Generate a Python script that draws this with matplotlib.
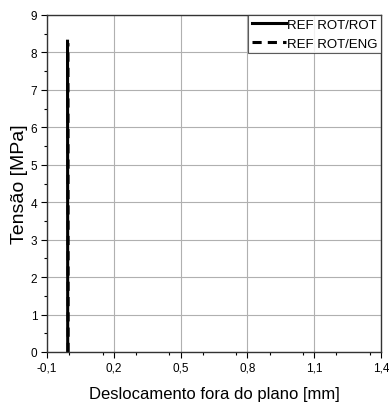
import matplotlib.pyplot as plt
from matplotlib.ticker import MultipleLocator, FixedLocator

plt.rcParams['font.family'] = ['Liberation Sans', 'DejaVu Sans']

# curves (displacement in mm, stress in MPa)
rot_rot_x = [-0.007, -0.0072, -0.0075, -0.0078]
rot_rot_y = [0.0, 3.0, 6.0, 8.3]
rot_eng_x = [-0.005, -0.0052, -0.0055, -0.0058]
rot_eng_y = [0.0, 3.0, 6.0, 8.25]

xticks = [-0.1, 0.2, 0.5, 0.8, 1.1, 1.4]
xlabels = ['-0,1', '0,2', '0,5', '0,8', '1,1', '1,4']

fig = plt.figure(figsize=(3.89, 4.10), dpi=100)
ax = fig.add_axes([47 / 389, 1 - 353 / 410, (381 - 47) / 389, (353 - 16) / 410])

ax.plot(rot_rot_x, rot_rot_y, color='black', lw=2.2, label='REF ROT/ROT')
ax.plot(rot_eng_x, rot_eng_y, color='black', lw=2.2, ls=(0, (3, 2)), label='REF ROT/ENG')

ax.set_xlim(-0.1, 1.4)
ax.set_ylim(0, 9)
ax.xaxis.set_major_locator(FixedLocator(xticks))
ax.set_xticklabels(xlabels)
ax.xaxis.set_minor_locator(MultipleLocator(0.15))
ax.yaxis.set_major_locator(MultipleLocator(1))
ax.yaxis.set_minor_locator(MultipleLocator(0.5))
ax.tick_params(which='major', length=4, width=0.8, labelsize=8.5, pad=3)
ax.tick_params(which='minor', length=2.5, width=0.8)
ax.grid(True, color='#b0b0b0', lw=0.8)
ax.set_axisbelow(True)
for s in ax.spines.values():
    s.set_linewidth(1.0)
    s.set_color('#333333')

ax.set_xlabel('Deslocamento fora do plano [mm]', fontsize=12, labelpad=9)
ax.set_ylabel('Tensão [MPa]', fontsize=14, labelpad=2)

leg = ax.legend(loc='upper right', fontsize=9.5, frameon=True, fancybox=False,
                edgecolor='#333333', borderaxespad=0, borderpad=0.25,
                handlelength=2.6, handletextpad=0.1, labelspacing=0.55)
leg.get_frame().set_linewidth(0.8)

fig.savefig('out.png', dpi=100)
